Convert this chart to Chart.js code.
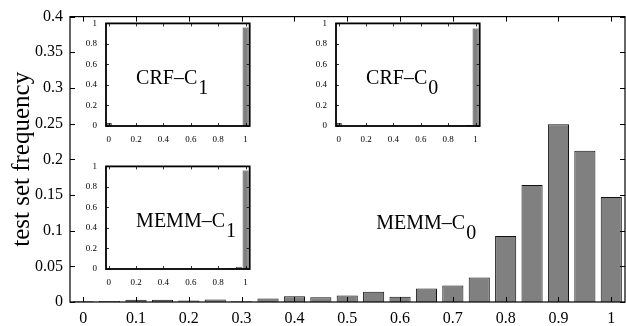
<!DOCTYPE html>
<html lang="en">
<head>
  <meta charset="UTF-8">
  <title>test set frequency</title>
  <script src="https://cdn.jsdelivr.net/npm/chart.js"></script>
  <style>
    body { margin: 0; background: #fff; }
    #wrap { position: relative; width: 626px; height: 326px; }
    canvas { position: absolute; }
  </style>
</head>
<body>
  <div id="wrap">
    <canvas id="main" width="626" height="326" style="left:0;top:0"></canvas>
    <canvas id="crf1" width="180" height="140" style="left:76px;top:9px"></canvas>
    <canvas id="crf0" width="180" height="140" style="left:306px;top:9px"></canvas>
    <canvas id="memm1" width="180" height="140" style="left:76px;top:152px"></canvas>
  </div>

  <script>
    // bins (score of the bin) shared by all four histograms
    const bins = [0, 0.05, 0.1, 0.15, 0.2, 0.25, 0.3, 0.35, 0.4, 0.45, 0.5,
                  0.55, 0.6, 0.65, 0.7, 0.75, 0.8, 0.85, 0.9, 0.95, 1];

    // main plot: MEMM-C0
    const memmC0 = [0.001, 0.0015, 0.003, 0.003, 0.002, 0.0035, 0.001, 0.005, 0.008, 0.0065, 0.009,
                    0.0145, 0.0075, 0.019, 0.023, 0.0345, 0.0925, 0.164, 0.249, 0.212, 0.147];
    // insets
    const crfC1 = [0.03, 0, 0, 0, 0, 0, 0, 0, 0, 0, 0,
                   0, 0, 0, 0, 0, 0, 0, 0, 0.002, 0.96];
    const crfC0 = [0.03, 0, 0, 0, 0, 0, 0, 0, 0, 0, 0,
                   0, 0, 0, 0, 0, 0, 0, 0.002, 0.01, 0.95];
    const memmC1 = [0.002, 0.002, 0.002, 0.002, 0.002, 0.002, 0.002, 0.002, 0.002, 0.002, 0.002,
                    0.002, 0.002, 0.002, 0.002, 0.003, 0.003, 0.004, 0.01, 0.022, 0.96];

    const mainXTicks = [0, 0.1, 0.2, 0.3, 0.4, 0.5, 0.6, 0.7, 0.8, 0.9, 1];
    const mainYTicks = [0, 0.05, 0.1, 0.15, 0.2, 0.25, 0.3, 0.35, 0.4];
    const insetTicks = [0, 0.2, 0.4, 0.6, 0.8, 1];

    const SERIF = "'Liberation Serif', 'DejaVu Serif', serif";
    const fmt = v => String(Number(v.toFixed(2)));

    // box with inward tick marks on all four sides
    const frameTicks = {
      id: 'frameTicks',
      afterDraw(chart, args, o) {
        const { ctx, chartArea: a, scales: { x, y } } = chart;
        ctx.save();
        ctx.strokeStyle = '#000';
        ctx.lineWidth = o.tickWidth;
        ctx.beginPath();
        x.ticks.forEach(t => {
          const px = Math.round(x.getPixelForValue(t.value)) + 0.5;
          ctx.moveTo(px, a.bottom); ctx.lineTo(px, a.bottom - o.len);
          ctx.moveTo(px, a.top); ctx.lineTo(px, a.top + o.len);
        });
        y.ticks.forEach(t => {
          const py = Math.round(y.getPixelForValue(t.value)) + 0.5;
          ctx.moveTo(a.left, py); ctx.lineTo(a.left + o.len, py);
          ctx.moveTo(a.right, py); ctx.lineTo(a.right - o.len, py);
        });
        ctx.stroke();
        ctx.lineWidth = o.frame;
        ctx.strokeRect(a.left, a.top, a.width, a.height);
        ctx.restore();
      }
    };

    // "NAME–C" + lowered index, placed in data coordinates
    const caption = {
      id: 'caption',
      afterDraw(chart, args, o) {
        const { ctx, scales: { x, y } } = chart;
        const px = x.getPixelForValue(o.x), py = y.getPixelForValue(o.y);
        ctx.save();
        ctx.fillStyle = '#000';
        ctx.textBaseline = 'alphabetic';
        ctx.font = o.size + 'px ' + SERIF;
        ctx.fillText(o.text, px, py);
        const w = ctx.measureText(o.text).width;
        ctx.fillText(o.sub, px + w + 1, py + o.size * 0.52);
        ctx.restore();
      }
    };

    function histogram(canvasId, values, cfg) {
      return new Chart(document.getElementById(canvasId), {
        type: 'bar',
        data: {
          datasets: [{
            data: bins.map((b, i) => ({ x: b, y: values[i] })),
            backgroundColor: '#808080',
            borderColor: '#111',
            borderWidth: cfg.border,
            barPercentage: cfg.barPct,
            categoryPercentage: 1
          }]
        },
        options: {
          responsive: false,
          animation: false,
          layout: { padding: cfg.padding },
          plugins: {
            legend: { display: false },
            tooltip: { enabled: false },
            frameTicks: cfg.frame,
            caption: cfg.caption
          },
          scales: {
            x: {
              type: 'linear', min: cfg.xMin, max: cfg.xMax, offset: false,
              grid: { display: false, drawTicks: false, offset: false },
              border: { display: false },
              afterBuildTicks: s => { s.ticks = cfg.xTicks.map(v => ({ value: v })); },
              afterFit: s => { s.height = cfg.xHeight; },
              ticks: {
                padding: cfg.xPad, color: '#000', maxRotation: 0, autoSkip: false,
                font: { family: SERIF, size: cfg.tickSize },
                callback: v => fmt(v)
              }
            },
            y: {
              min: 0, max: cfg.yMax,
              grid: { display: false, drawTicks: false },
              border: { display: false },
              afterBuildTicks: s => { s.ticks = cfg.yTicks.map(v => ({ value: v })); },
              afterFit: s => { s.width = cfg.yWidth; },
              ticks: {
                padding: cfg.yPad, color: '#000', autoSkip: false,
                font: { family: SERIF, size: cfg.tickSize },
                callback: v => fmt(v)
              },
              title: cfg.yTitle || { display: false }
            }
          }
        },
        plugins: [frameTicks, caption]
      });
    }

    histogram('main', memmC0, {
      border: 1, barPct: 0.8,
      padding: { top: 10, right: 1, left: 0, bottom: 0 },
      xMin: -0.025, xMax: 1.026, xTicks: mainXTicks, xHeight: 24, xPad: 7,
      yMax: 0.4, yTicks: mainYTicks, yWidth: 70, yPad: 7,
      tickSize: 16,
      yTitle: { display: true, text: 'test set frequency', color: '#000',
                font: { family: SERIF, size: 25 }, padding: { top: 7, bottom: 0 } },
      frame: { len: 5, tickWidth: 1, frame: 1.2 },
      caption: { text: 'MEMM\u2013C', sub: '0', x: 0.555, y: 0.103, size: 20 }
    });

    const insetCfg = (label, sub) => ({
      border: 0.8, barPct: 0.87,
      padding: { top: 10, right: 6, left: 0, bottom: 0 },
      xMin: -0.02, xMax: 1.03, xTicks: insetTicks, xHeight: 23, xPad: 8,
      yMax: 1, yTicks: insetTicks, yWidth: 30, yPad: 9,
      tickSize: 9,
      frame: { len: 3, tickWidth: 0.8, frame: 1.8 },
      caption: { text: label, sub: sub, x: 0.2, y: 0.41, size: 20 }
    });

    histogram('crf1', crfC1, insetCfg('CRF\u2013C', '1'));
    histogram('crf0', crfC0, insetCfg('CRF\u2013C', '0'));
    histogram('memm1', memmC1, insetCfg('MEMM\u2013C', '1'));
  </script>
</body>
</html>
